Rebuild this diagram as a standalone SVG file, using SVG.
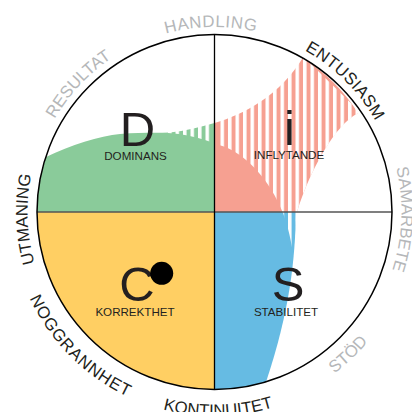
<svg xmlns="http://www.w3.org/2000/svg" width="412" height="412" viewBox="0 0 412 412">
<style>
text{font-family:"Liberation Sans",Arial,sans-serif;fill:#231f20}
.big{font-size:49px;text-anchor:middle}
.sub{font-size:11.6px;text-anchor:middle}
.ring{font-size:16.8px;text-anchor:middle}
.dim{fill:#b5b7b9}
</style>
<defs>
<pattern id="stripes" patternUnits="userSpaceOnUse" x="220.5" y="0" width="7.5" height="10">
<rect width="3.5" height="10" fill="#fff"/>
</pattern>
<path id="cw" d="M214.5,397 A185,185 0 0 1 214.5,27 A185,185 0 0 1 214.5,397"/>
<path id="cwl" d="M214.5,399 A187,187 0 0 1 214.5,25 A187,187 0 0 1 214.5,399"/>
<path id="ccw" d="M214.5,8 A204,204 0 0 0 214.5,416 A204,204 0 0 0 214.5,8"/>
<path id="ccws" d="M214.5,11 A201,201 0 0 0 214.5,413 A201,201 0 0 0 214.5,11"/>
</defs>
<g id="node-d">
<path d="M214.5,212 H37 A177.5,177.5 0 0 1 46,157 C70,145 100,136 120,134 C140,132 155,133 170,132.5 C185,131 200,127 214.5,123 V212 Z" fill="#8acb9a"/>
<path d="M168,133 C185,134 200,138 212,142.5 V120 H168 Z" fill="url(#stripes)"/>
</g>
<g id="node-i">
<path d="M214.5,123 C245,114 280,95 302.7,58 A177.5,177.5 0 0 1 358,113 C335,125 310,170 297,212 H214.5 Z" fill="#f6a091"/>
</g>
<g id="node-s">
<path d="M214.5,212 H296 C295,260 290,310 266,382 A177.5,177.5 0 0 1 214.5,389.5 Z" fill="#66bbe3"/>
</g>
<path d="M219,114 C245,114 280,95 302.7,56 L360,112 C335,125 310,170 297,212 L292.5,250 C290,235 287,224 283,213 C270,180 245,152 219,145 Z" fill="url(#stripes)"/>
<g id="node-c">
<path d="M214.5,212 H37 A177.5,177.5 0 0 0 214.5,389.5 Z" fill="#ffcf63"/>
</g>
<g id="connectors" fill="none">
<line x1="37" y1="212" x2="392" y2="212" stroke="#555" stroke-width="1.3"/>
<line x1="214.5" y1="34.5" x2="214.5" y2="389.5" stroke="#000" stroke-width="1.3"/>
<circle cx="214.5" cy="212" r="177.5" stroke="#000" stroke-width="1.5"/>
</g>
<g id="labels-d">
<text class="big" x="137.5" y="146">D</text>
<text class="sub" x="135.5" y="160">DOMINANS</text>
</g>
<g id="labels-i">
<text class="big" x="289.5" y="145">i</text>
<text class="sub" x="289" y="159">INFLYTANDE</text>
</g>
<g id="labels-s">
<text class="big" x="288" y="301">S</text>
<text class="sub" x="286" y="316">STABILITET</text>
</g>
<g id="labels-c">
<text class="big" x="137" y="301">C</text>
<circle cx="161.7" cy="273.3" r="11.5" fill="#000"/>
<text class="sub" x="135" y="316">KORREKTHET</text>
</g>
<g id="ring-labels">
<text class="ring dim" letter-spacing=".6"><textPath href="#cw" startOffset="49.7%">HANDLING</textPath></text>
<text class="ring" letter-spacing=".4"><textPath href="#cw" startOffset="62.47%">ENTUSIASM</textPath></text>
<text class="ring dim"><textPath href="#cwl" startOffset="75.6%">SAMARBETE</textPath></text>
<text class="ring dim"><textPath href="#cw" startOffset="37%">RESULTAT</textPath></text>
<text class="ring"><textPath href="#cwl" startOffset="24.4%">UTMANING</textPath></text>
<text class="ring" letter-spacing=".9"><textPath href="#ccw" startOffset="37.5%">NOGGRANNHET</textPath></text>
<text class="ring"><textPath href="#ccw" startOffset="50.3%">KONTINUITET</textPath></text>
<text class="ring dim"><textPath href="#ccws" startOffset="62%">STÖD</textPath></text>
</g>
</svg>
